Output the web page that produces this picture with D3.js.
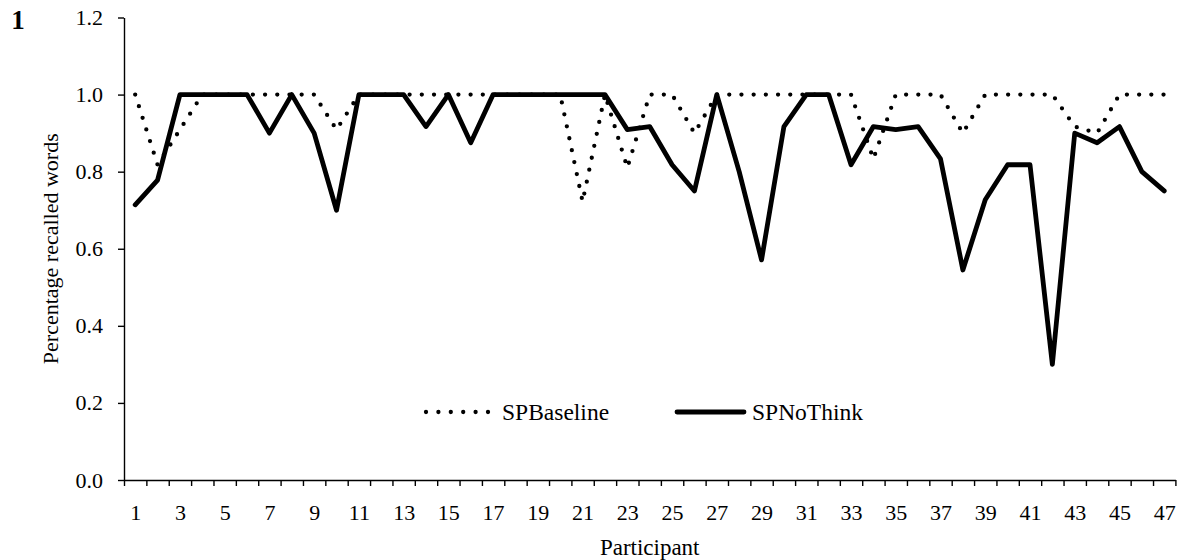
<!DOCTYPE html>
<html>
<head>
<meta charset="utf-8">
<script src="https://cdn.jsdelivr.net/npm/d3@7"></script>
<style>
  html, body { margin: 0; padding: 0; background: #fff; }
  svg text { font-family: "Liberation Serif", "Times New Roman", serif; fill: #000; }
</style>
</head>
<body>
<svg id="chart" width="1182" height="560"></svg>
<script>
// Participants 1..47
const participants = d3.range(1, 48);

// Proportion of recalled words per participant
const spBaseline = [
  1.0, 0.818, 0.909, 1.0, 1.0, 1.0, 1.0, 1.0, 1.0, 0.909,
  1.0, 1.0, 1.0, 1.0, 1.0, 1.0, 1.0, 1.0, 1.0, 1.0,
  0.722, 1.0, 0.81, 1.0, 1.0, 0.9, 1.0, 1.0, 1.0, 1.0,
  1.0, 1.0, 1.0, 0.833, 1.0, 1.0, 1.0, 0.9, 1.0, 1.0,
  1.0, 1.0, 0.917, 0.9, 1.0, 1.0, 1.0
];
const spNoThink = [
  0.714, 0.778, 1.0, 1.0, 1.0, 1.0, 0.9, 1.0, 0.9, 0.7,
  1.0, 1.0, 1.0, 0.917, 1.0, 0.875, 1.0, 1.0, 1.0, 1.0,
  1.0, 1.0, 0.909, 0.917, 0.818, 0.75, 1.0, 0.8, 0.571, 0.917,
  1.0, 1.0, 0.818, 0.917, 0.909, 0.917, 0.833, 0.545, 0.727, 0.818,
  0.818, 0.3, 0.9, 0.875, 0.917, 0.8, 0.75
];

const xLabels = participants.filter(p => p % 2 === 1);
const yTicks = [0, 0.2, 0.4, 0.6, 0.8, 1.0, 1.2];

const svg = d3.select("#chart");
const plotLeft = 124, plotRight = 1175.4, plotTop = 17.5, plotBottom = 480;

// Categories sit between boundary ticks at k + 0.5
const x = d3.scaleLinear().domain([0.5, 47.5]).range([plotLeft, plotRight]);
const y = d3.scaleLinear().domain([0, 1.2]).range([plotBottom, plotTop]);

const FONT = 22;

// Y axis
const yAxis = svg.append("g")
  .attr("transform", `translate(${plotLeft},0)`)
  .call(d3.axisLeft(y).tickValues(yTicks).tickFormat(d3.format(".1f"))
        .tickSize(6).tickPadding(15).tickSizeOuter(0));
yAxis.selectAll("text").style("font-size", FONT + "px");
yAxis.select(".domain").attr("stroke", "#000").attr("stroke-width", 1.4);
yAxis.selectAll(".tick line").attr("stroke", "#000").attr("stroke-width", 1.4);

// X axis boundary ticks
const xAxisTicks = svg.append("g")
  .attr("transform", `translate(0,${plotBottom})`)
  .call(d3.axisBottom(x).tickValues(d3.range(0.5, 48, 1)).tickFormat("")
        .tickSize(6).tickSizeOuter(0));
xAxisTicks.select(".domain").attr("stroke", "#000").attr("stroke-width", 1.4);
xAxisTicks.selectAll(".tick line").attr("stroke", "#000").attr("stroke-width", 1.4);

// X axis labels (odd participants, centred in their category)
const xAxisLabels = svg.append("g")
  .attr("transform", `translate(0,${plotBottom})`)
  .call(d3.axisBottom(x).tickValues(xLabels).tickFormat(d3.format("d"))
        .tickSize(0).tickPadding(24));
xAxisLabels.select(".domain").remove();
xAxisLabels.selectAll("text").style("font-size", FONT + "px");

// Axis titles
svg.append("text")
  .attr("x", (plotLeft + plotRight) / 2).attr("y", 555)
  .attr("text-anchor", "middle")
  .style("font-size", "23px")
  .text("Participant");

svg.append("text")
  .attr("transform", `translate(58,${(plotTop + plotBottom) / 2}) rotate(-90)`)
  .attr("text-anchor", "middle")
  .style("font-size", FONT + "px")
  .text("Percentage recalled words");

// Panel label
svg.append("text")
  .attr("x", 18).attr("y", 29)
  .attr("text-anchor", "middle")
  .style("font-size", "27px").style("font-weight", "bold")
  .text("1");

// Lines
const line = d3.line()
  .x((d, i) => x(participants[i]))
  .y(d => y(d));

svg.append("path")
  .datum(spBaseline)
  .attr("fill", "none")
  .attr("stroke", "#000")
  .attr("stroke-width", 4.3)
  .attr("stroke-linecap", "round")
  .attr("stroke-linejoin", "round")
  .attr("stroke-dasharray", "0 12.2")
  .attr("d", line);

svg.append("path")
  .datum(spNoThink)
  .attr("fill", "none")
  .attr("stroke", "#000")
  .attr("stroke-width", 4.8)
  .attr("stroke-linecap", "round")
  .attr("stroke-linejoin", "round")
  .attr("d", line);

// Legend
const legend = svg.append("g");
legend.append("line")
  .attr("x1", 426).attr("x2", 489).attr("y1", 412).attr("y2", 412)
  .attr("stroke", "#000").attr("stroke-width", 4.3)
  .attr("stroke-linecap", "round").attr("stroke-dasharray", "0 12.4");
legend.append("text")
  .attr("x", 502).attr("y", 419.5)
  .style("font-size", "23.5px")
  .text("SPBaseline");
legend.append("line")
  .attr("x1", 677).attr("x2", 744).attr("y1", 412).attr("y2", 412)
  .attr("stroke", "#000").attr("stroke-width", 4.8)
  .attr("stroke-linecap", "round");
legend.append("text")
  .attr("x", 752).attr("y", 419.5)
  .style("font-size", "23.5px")
  .text("SPNoThink");
</script>
</body>
</html>
